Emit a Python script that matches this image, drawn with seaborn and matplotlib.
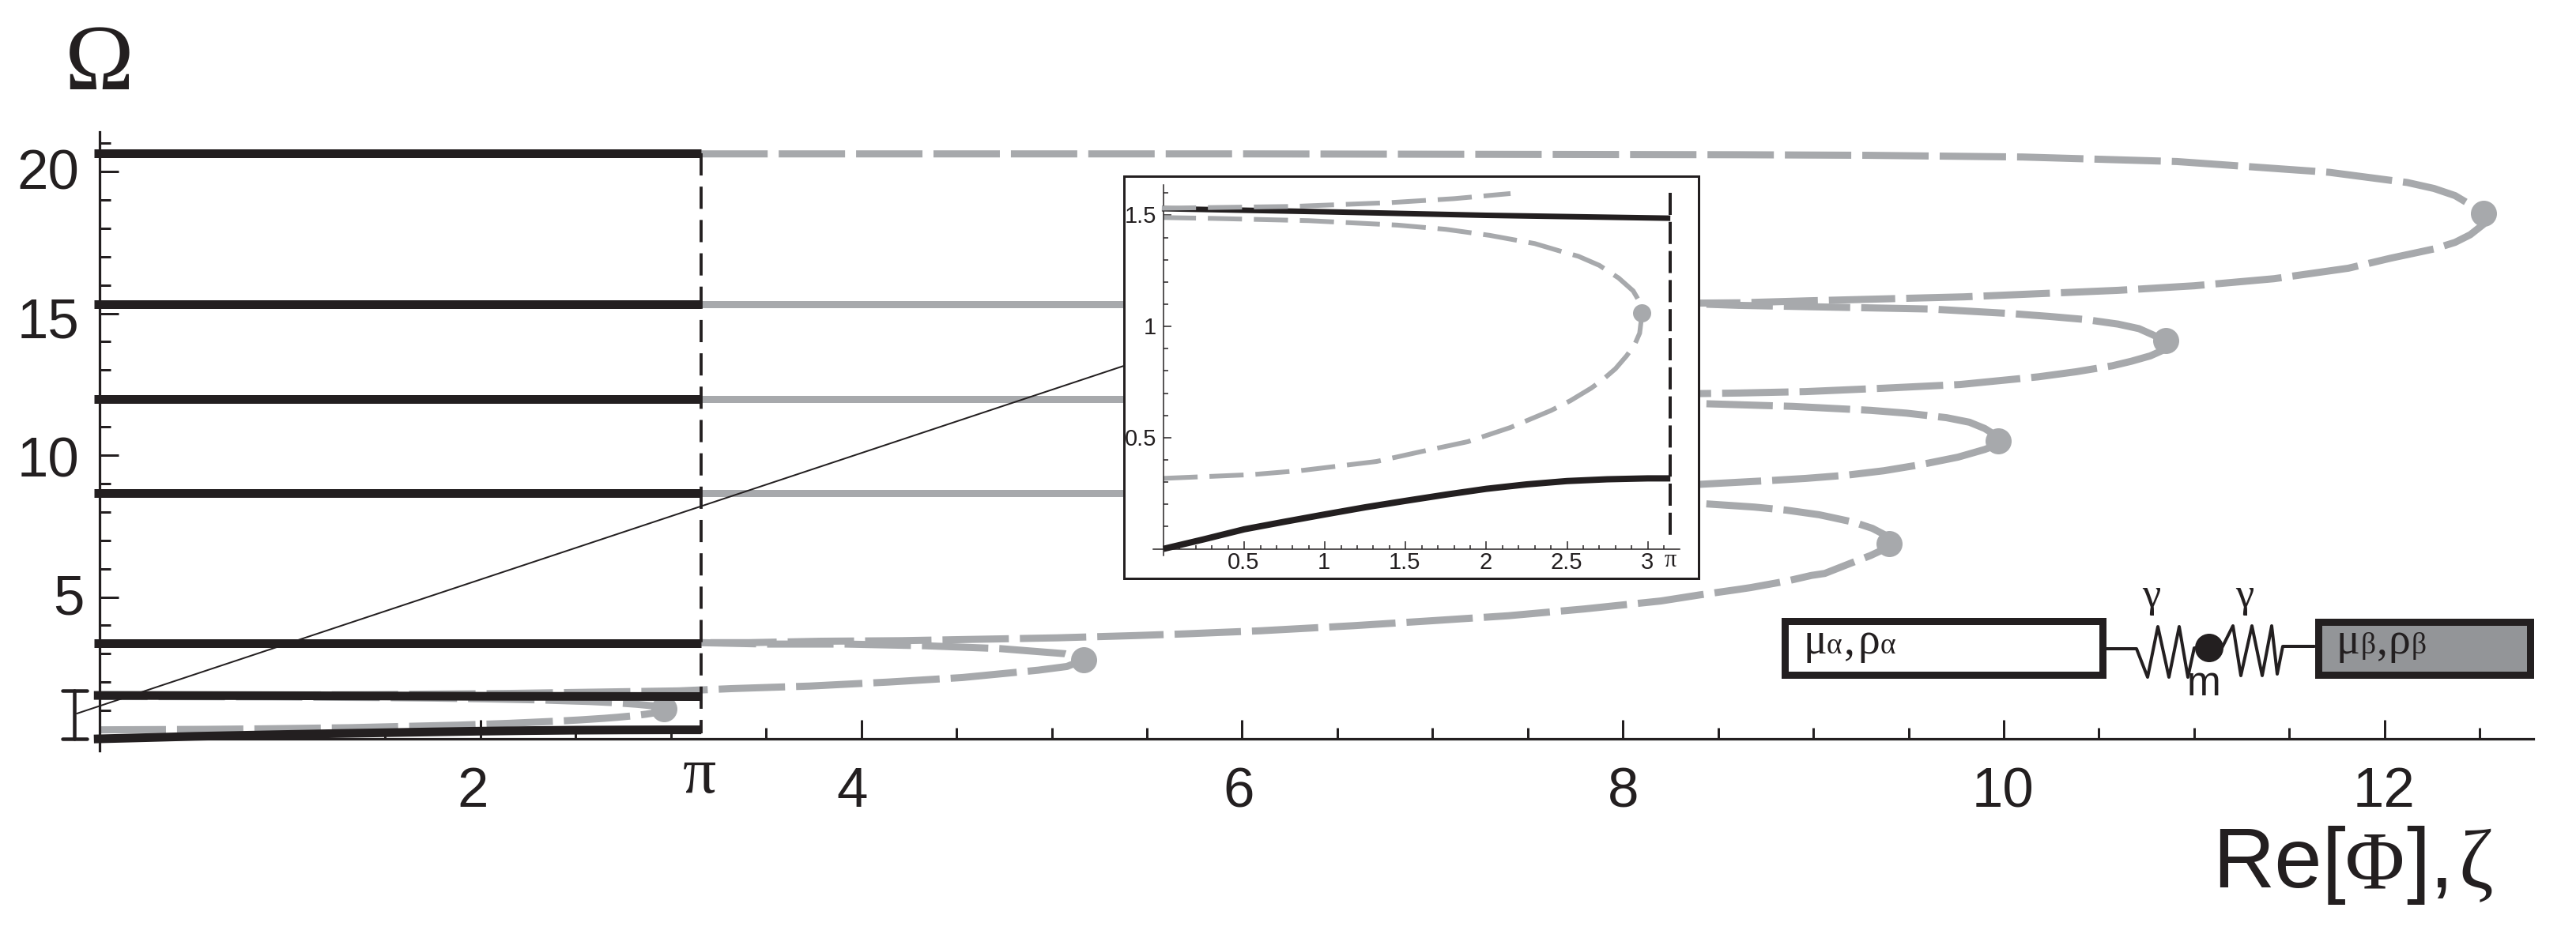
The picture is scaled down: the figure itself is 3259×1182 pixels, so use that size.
import matplotlib
matplotlib.use("Agg")
import matplotlib.pyplot as plt
from matplotlib.patches import Rectangle, Circle
import seaborn as sns

W, H = 3259, 1182
PT = 0.72  # one image pixel in points at dpi 100
BLACK = "#231f20"
GRAY = "#a7a9ac"
BOX_GRAY = "#939598"
SANS = ["Liberation Sans", "DejaVu Sans"]
SERIF = ["Liberation Serif", "DejaVu Serif"]
NARROW = ["Liberation Sans Narrow", "Liberation Sans", "DejaVu Sans"]

# main panel
pi_x = 3.16
black_levels = [20.63, 15.33, 11.99, 8.65, 3.38]
solid_levels = [15.33, 11.99, 8.65]
black_upper_x = [-0.03, 1.0, 2.0, 3.16]
black_upper_y = [1.53, 1.52, 1.50, 1.49]
black_lower_x = [-0.03, 0.25, 0.5, 0.75, 1.0, 1.25, 1.5, 1.75, 2.0, 2.25, 2.5, 2.75, 3.0, 3.16]
black_lower_y = [-0.005, 0.043, 0.088, 0.122, 0.155, 0.187, 0.216, 0.244, 0.27, 0.29, 0.305, 0.313, 0.317, 0.317]

loop_a_x = [3.16, 6.0, 8.61, 9.28, 10.10, 10.91, 11.71, 12.12, 12.26, 12.37, 12.45, 12.52, 12.52, 12.45, 12.37, 12.26, 12.03, 11.81, 11.42, 11.0, 10.60, 9.79, 8.97, 8.61, 8.40, 6.0]
loop_a_y = [20.62, 20.62, 20.59, 20.57, 20.51, 20.35, 19.97, 19.61, 19.40, 19.15, 18.83, 18.51, 18.14, 17.77, 17.50, 17.27, 16.94, 16.59, 16.22, 15.97, 15.81, 15.58, 15.44, 15.37, 15.36, 15.33]
loop_b_x = [6.0, 8.40, 8.61, 9.23, 9.62, 10.04, 10.24, 10.43, 10.60, 10.71, 10.78, 10.85, 10.84, 10.77, 10.67, 10.57, 10.38, 10.18, 9.77, 9.37, 8.96, 8.61, 8.40, 6.0]
loop_b_y = [15.33, 15.33, 15.28, 15.2, 15.15, 14.99, 14.89, 14.78, 14.62, 14.46, 14.25, 14.03, 13.71, 13.5, 13.31, 13.15, 12.94, 12.76, 12.49, 12.36, 12.24, 12.19, 12.17, 12.0]
loop_c_x = [6.0, 8.40, 8.89, 9.30, 9.49, 9.70, 9.82, 9.90, 9.95, 9.97, 9.94, 9.90, 9.76, 9.56, 9.37, 9.17, 8.96, 8.76, 8.40, 6.0]
loop_c_y = [12.0, 11.82, 11.72, 11.58, 11.48, 11.32, 11.16, 10.94, 10.73, 10.49, 10.30, 10.2, 9.93, 9.66, 9.45, 9.29, 9.18, 9.10, 8.97, 8.65]
loop_d_x = [6.0, 8.40, 8.69, 8.86, 9.03, 9.10, 9.21, 9.31, 9.37, 9.40, 9.37, 9.30, 9.20, 9.06, 8.99, 8.86, 8.67, 8.61, 8.40, 8.20, 7.80, 7.40, 6.99, 6.59, 6.10, 5.70, 5.44, 5.03, 4.62, 4.21, 3.79, 3.41, 3.16]
loop_d_y = [8.65, 8.30, 8.17, 8.06, 7.9, 7.8, 7.64, 7.42, 7.21, 6.89, 6.68, 6.46, 6.2, 5.83, 5.76, 5.56, 5.33, 5.27, 5.07, 4.86, 4.58, 4.34, 4.16, 3.99, 3.81, 3.70, 3.64, 3.56, 3.51, 3.46, 3.44, 3.39, 3.39]
loop_e_x = [0.0, 0.8, 1.4, 2.15, 3.04, 3.32, 3.73, 4.14, 4.53, 4.93, 5.08, 5.17, 5.07, 4.73, 4.34, 3.92, 3.51, 3.16]
loop_e_y = [1.53, 1.54, 1.557, 1.6, 1.69, 1.77, 1.86, 2.0, 2.16, 2.42, 2.55, 2.79, 3.0, 3.18, 3.28, 3.34, 3.34, 3.39]
loop_f_x = [0.0, 0.55, 0.85, 1.32, 1.6, 1.885, 2.15, 2.4, 2.52, 2.65, 2.72, 2.80, 2.87, 2.92, 2.95, 2.965, 2.95, 2.91, 2.82, 2.70, 2.57, 2.5, 2.3, 2.02, 1.75, 1.45, 0.9, 0.32, 0.0]
loop_f_y = [0.317, 0.334, 0.352, 0.393, 0.438, 0.482, 0.546, 0.622, 0.666, 0.723, 0.76, 0.81, 0.869, 0.92, 0.97, 1.06, 1.11, 1.16, 1.218, 1.275, 1.316, 1.33, 1.373, 1.41, 1.437, 1.456, 1.476, 1.486, 1.49]
loops = [(loop_a_x, loop_a_y), (loop_b_x, loop_b_y), (loop_c_x, loop_c_y),
         (loop_d_x, loop_d_y), (loop_e_x, loop_e_y), (loop_f_x, loop_f_y)]
tip_x = [12.52, 10.85, 9.97, 9.40, 5.17, 2.965]
tip_y = [18.51, 14.03, 10.49, 6.89, 2.79, 1.05]

x_major = [2, 4, 6, 8, 10, 12]
x_minor = [0.5, 1, 1.5, 2.5, 3, 3.5, 4.5, 5, 5.5, 6.5, 7, 7.5, 8.5, 9, 9.5, 10.5, 11, 11.5, 12.5]
x_labels = ["2", "4", "6", "8", "10", "12"]
x_label_dx = [-10, -11, -4, 0, -1, -1]
y_major = [5, 10, 15, 20]
y_minor = [1, 2, 3, 4, 6, 7, 8, 9, 11, 12, 13, 14, 16, 17, 18, 19, 21]
y_labels = ["5", "10", "15", "20"]
y_label_dx = [-19, -26, -26, -26]
y_label_dy = [-4, -9, -13, -5]

# inset
in_black_low_x = [0.0, 0.25, 0.5, 0.75, 1.0, 1.25, 1.5, 1.75, 2.0, 2.25, 2.5, 2.75, 3.0, 3.14]
in_black_low_y = [0.0, 0.043, 0.088, 0.122, 0.155, 0.187, 0.216, 0.244, 0.27, 0.29, 0.305, 0.313, 0.317, 0.317]
in_black_up_x = [-0.01, 1.0, 2.0, 3.14]
in_black_up_y = [1.53, 1.516, 1.50, 1.487]
in_gray_top_x = [-0.01, 0.8, 1.4, 1.8, 2.15]
in_gray_top_y = [1.532, 1.54, 1.557, 1.575, 1.598]
in_gray_low_x = loop_f_x
in_gray_low_y = loop_f_y
in_major_x = [0.5, 1, 1.5, 2, 2.5, 3]
in_major_x_labels = ["0.5", "1", "1.5", "2", "2.5", "3"]
in_major_y = [0.5, 1, 1.5]
in_major_y_labels = ["0.5", "1", "1.5"]
in_minor = [0.1, 0.2, 0.3, 0.4, 0.6, 0.7, 0.8, 0.9, 1.1, 1.2, 1.3, 1.4, 1.6]
in_minor_x = in_minor + [1.7, 1.8, 1.9, 2.1, 2.2, 2.3, 2.4, 2.6, 2.7, 2.8, 2.9, 3.1]
in_tip = (2.965, 1.06)


def px_box(left, top, right, bottom):
    return [left / W, 1 - bottom / H, (right - left) / W, (bottom - top) / H]


sns.set_style("ticks")
plt.rcParams["font.family"] = SANS
fig = plt.figure(figsize=(W / 100, H / 100), dpi=100, facecolor="white")

# main axes: x=0 at pixel 126 (240.9 px per unit), y=0 at pixel 935 (35.9 px per unit)
xlim = (-0.03, 12.78)
ylim = (-0.42, 21.4)
ax = fig.add_axes(px_box(126 + xlim[0] * 240.9, 935 - ylim[1] * 35.9,
                         126 + xlim[1] * 240.9, 935 - ylim[0] * 35.9))
ax.set_xlim(xlim)
ax.set_ylim(ylim)
ax.patch.set_alpha(0)

gray_dash = (0, (9.33, 1.55))
for lx, ly in loops:
    sns.lineplot(x=lx, y=ly, sort=False, estimator=None, color=GRAY, linewidth=9 * PT,
                 linestyle=gray_dash, ax=ax, zorder=2, clip_on=False)
for lev in solid_levels:
    sns.lineplot(x=[pi_x, 6.0], y=[lev, lev], sort=False, estimator=None, color=GRAY,
                 linewidth=9 * PT, ax=ax, zorder=2)
sns.scatterplot(x=tip_x, y=tip_y, color=GRAY, s=(33 * PT) ** 2, linewidth=0, ax=ax, zorder=3)

# thin pointer from the bracket to the inset, and the bracket
sns.lineplot(x=[-0.12, 5.38], y=[0.89, 13.15], sort=False, estimator=None, color=BLACK,
             linewidth=2 * PT, ax=ax, zorder=3, clip_on=False)
for bx, by in [([-0.133, -0.133], [0, 1.7]), ([-0.195, -0.067], [0, 0]), ([-0.195, -0.067], [1.7, 1.7])]:
    sns.lineplot(x=bx, y=by, sort=False, estimator=None, color=BLACK, linewidth=4.5 * PT,
                 ax=ax, zorder=3, clip_on=False)

for lev in black_levels:
    sns.lineplot(x=[-0.03, pi_x], y=[lev, lev], sort=False, estimator=None, color=BLACK,
                 linewidth=11 * PT, ax=ax, zorder=4, solid_capstyle="butt", clip_on=False)
sns.lineplot(x=black_upper_x, y=black_upper_y, sort=False, estimator=None, color=BLACK,
             linewidth=11 * PT, ax=ax, zorder=4, solid_capstyle="butt", clip_on=False)
sns.lineplot(x=black_lower_x, y=black_lower_y, sort=False, estimator=None, color=BLACK,
             linewidth=11 * PT, ax=ax, zorder=4, solid_capstyle="butt", clip_on=False)
sns.lineplot(x=[pi_x, pi_x], y=[20.63, 0.2], sort=False, estimator=None, color=BLACK,
             linewidth=3.8 * PT, linestyle=(0, (7.4, 3.7)), ax=ax, zorder=5)

for name in ["top", "right"]:
    ax.spines[name].set_visible(False)
ax.spines["left"].set_position(("data", 0))
ax.spines["bottom"].set_position(("data", 0))
ax.spines["bottom"].set_bounds(0, xlim[1])
for name in ["left", "bottom"]:
    ax.spines[name].set_color(BLACK)
    ax.spines[name].set_linewidth(3.2 * PT)
ax.set_xticks(x_major)
ax.set_xticks(x_minor, minor=True)
ax.set_yticks(y_major)
ax.set_yticks(y_minor, minor=True)
ax.tick_params(which="major", direction="in", length=24 * PT, width=3 * PT, color=BLACK,
               labelbottom=False, labelleft=False)
ax.tick_params(which="minor", direction="in", length=14 * PT, width=3 * PT, color=BLACK)

for v, lab, dx in zip(x_major, x_labels, x_label_dx):
    ax.annotate(lab, xy=(v, 0), xytext=(dx, -68), textcoords="offset pixels", ha="center",
                va="center", fontsize=51, color=BLACK, annotation_clip=False)
for v, lab, dx, dy in zip(y_major, y_labels, y_label_dx, y_label_dy):
    ax.annotate(lab, xy=(0, v), xytext=(dx, dy), textcoords="offset pixels", ha="right",
                va="center", fontsize=51, color=BLACK, annotation_clip=False)

# inset: white frame, then the axes inside it
frame = fig.add_axes(px_box(1422, 223, 2149, 732), zorder=5)
frame.set_xticks([])
frame.set_yticks([])
frame.set_facecolor("white")
for sp in frame.spines.values():
    sp.set_color(BLACK)
    sp.set_linewidth(3 * PT)

in_xlim = (-0.065, 3.2)
in_ylim = (-0.03, 1.637)
ins = fig.add_axes(px_box(1472 + in_xlim[0] * 204.2, 694.6 - in_ylim[1] * 281.4,
                          1472 + in_xlim[1] * 204.2, 694.6 - in_ylim[0] * 281.4), zorder=6)
ins.set_xlim(in_xlim)
ins.set_ylim(in_ylim)
ins.patch.set_alpha(0)
in_dash = (0, (7.2, 2.5))
sns.lineplot(x=in_gray_low_x, y=in_gray_low_y, sort=False, estimator=None, color=GRAY,
             linewidth=6 * PT, linestyle=in_dash, ax=ins, zorder=2)
sns.lineplot(x=in_black_up_x, y=in_black_up_y, sort=False, estimator=None, color=BLACK,
             linewidth=7 * PT, ax=ins, zorder=3, solid_capstyle="butt")
sns.lineplot(x=in_gray_top_x, y=in_gray_top_y, sort=False, estimator=None, color=GRAY,
             linewidth=6 * PT, linestyle=in_dash, ax=ins, zorder=4)
sns.lineplot(x=in_black_low_x, y=in_black_low_y, sort=False, estimator=None, color=BLACK,
             linewidth=8 * PT, ax=ins, zorder=3, solid_capstyle="butt")
sns.lineplot(x=[3.14, 3.14], y=[1.6, 0.057], sort=False, estimator=None, color=BLACK,
             linewidth=4 * PT, linestyle=(0, (7, 2.2)), ax=ins, zorder=5)
sns.scatterplot(x=[in_tip[0]], y=[in_tip[1]], color=GRAY, s=(23 * PT) ** 2, linewidth=0, ax=ins, zorder=4)

for name in ["top", "right"]:
    ins.spines[name].set_visible(False)
ins.spines["left"].set_position(("data", 0))
ins.spines["bottom"].set_position(("data", 0))
for name in ["left", "bottom"]:
    ins.spines[name].set_color(BLACK)
    ins.spines[name].set_linewidth(1.5 * PT)
ins.set_xticks(in_major_x)
ins.set_xticks(in_minor_x, minor=True)
ins.set_yticks(in_major_y)
ins.set_yticks(in_minor, minor=True)
ins.tick_params(which="major", direction="in", length=10 * PT, width=1.5 * PT, color=BLACK,
                labelbottom=False, labelleft=False)
ins.tick_params(which="minor", direction="in", length=5.5 * PT, width=1.5 * PT, color=BLACK)
for v, lab in zip(in_major_x, in_major_x_labels):
    ins.annotate(lab, xy=(v, 0), xytext=(-1, -17), textcoords="offset pixels", ha="center",
                 va="center", fontsize=21, family=NARROW, color=BLACK, annotation_clip=False)
for v, lab in zip(in_major_y, in_major_y_labels):
    ins.annotate(lab, xy=(0, v), xytext=(-9, -2), textcoords="offset pixels", ha="right",
                 va="center", fontsize=21, family=NARROW, color=BLACK, annotation_clip=False)
ins.annotate("π", xy=(3.14, 0), xytext=(0, -15), textcoords="offset pixels", ha="center",
             va="center", fontsize=22, family=SERIF, color=BLACK, annotation_clip=False)

# overlay in image pixels for the sketch and the axis titles
over = fig.add_axes([0, 0, 1, 1], zorder=7)
over.set_xlim(0, W)
over.set_ylim(H, 0)
over.axis("off")
over.patch.set_alpha(0)

over.add_patch(Rectangle((2257.5, 786), 402, 68, facecolor="white", edgecolor=BLACK, linewidth=9 * PT))
over.add_patch(Rectangle((2932.5, 787), 268, 67, facecolor=BOX_GRAY, edgecolor=BLACK, linewidth=9 * PT))
spring_x = [2664, 2703, 2717, 2730, 2744, 2757, 2768, 2776, 2795, 2811, 2825, 2835, 2849, 2862, 2874, 2881, 2888, 2928]
spring_y = [821, 821, 857, 793, 857, 793, 857, 820, 820, 820, 792, 855, 792, 855, 792, 853, 818, 818]
over.plot(spring_x, spring_y, color=BLACK, linewidth=4 * PT)
over.add_patch(Circle((2795, 820), 18, facecolor=BLACK, edgecolor="none", zorder=3))

for t, x, fs in [("μ", 2281, 40), ("α", 2311, 27), (",", 2333, 40), ("ρ", 2350, 40), ("α", 2379, 27),
                 ("μ", 2955, 40), ("β", 2987, 27), (",", 3007, 40), ("ρ", 3021, 40), ("β", 3051, 27)]:
    over.text(x, 827, t, fontsize=fs, family=SERIF, color=BLACK, ha="left", va="baseline")
over.text(2722, 768, "γ", fontsize=38, family=SERIF, color=BLACK, ha="center", va="baseline")
over.text(2840, 768, "γ", fontsize=38, family=SERIF, color=BLACK, ha="center", va="baseline")
over.text(2788, 880, "m", fontsize=37, color=BLACK, ha="center", va="baseline")

over.text(885, 983, "π", fontsize=60, family=SERIF, color=BLACK, ha="center", va="center")
over.text(126, 113, "Ω", fontsize=85, family=SERIF, color=BLACK, ha="center", va="baseline")
over.text(2799, 1123, "Re[", fontsize=78, color=BLACK, ha="left", va="baseline")
over.text(2967, 1123, "Φ", fontsize=74, family=SERIF, color=BLACK, ha="left", va="baseline")
over.text(3044, 1123, "],", fontsize=78, color=BLACK, ha="left", va="baseline")
over.text(3110, 1123, "ζ", fontsize=76, family=SERIF, color=BLACK, ha="left", va="baseline")

fig.savefig("out.png", dpi=100)
